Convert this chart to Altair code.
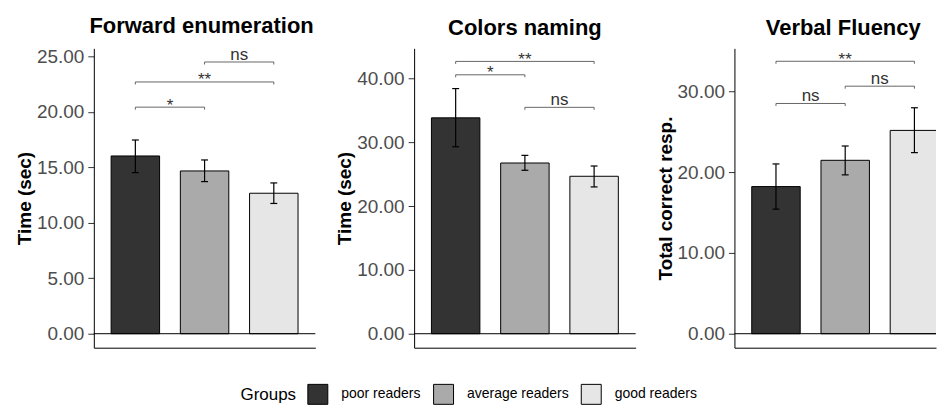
import altair as alt
import pandas as pd

# ---------------- data ----------------
groups = ["poor readers", "average readers", "good readers"]
group_pos = [1, 2, 3]
group_fills = ["#333333", "#AAAAAA", "#E6E6E6"]

panel_titles = ["Forward enumeration", "Colors naming", "Verbal Fluency"]
y_titles = ["Time (sec)", "Time (sec)", "Total correct resp."]

fe_mean = [16.02, 14.67, 12.66]
fe_low = [14.52, 13.71, 11.74]
fe_high = [17.46, 15.66, 13.59]

cn_mean = [33.85, 26.77, 24.69]
cn_low = [29.32, 25.63, 23.02]
cn_high = [38.44, 27.97, 26.30]

vf_mean = [18.20, 21.45, 25.15]
vf_low = [15.41, 19.65, 22.40]
vf_high = [21.00, 23.22, 27.95]

bracket_from = [1, 1, 2]
bracket_to = [2, 3, 3]
fe_bracket_y = [20.42, 22.69, 24.49]
fe_bracket_lab = ["*", "**", "ns"]
cn_bracket_y = [40.6, 42.7, 35.5]
cn_bracket_lab = ["*", "**", "ns"]
vf_bracket_y = [28.48, 33.7, 30.62]
vf_bracket_lab = ["ns", "**", "ns"]

fe_ticks = [0, 5, 10, 15, 20, 25]
cn_ticks = [0, 10, 20, 30, 40]
vf_ticks = [0, 10, 20, 30]

fe_ydom = [-1.26, 25.72]
cn_ydom = [-2.19, 44.75]
vf_ydom = [-1.73, 35.3]

FONT = "Liberation Sans"

legend = alt.Legend(
    orient="none", legendX=147, legendY=336, direction="horizontal",
    title="Groups", titleOrient="left", titleFontSize=17, titleFontWeight="normal",
    titleColor="black", titleFont=FONT, titlePadding=11, titleBaseline="middle",
    labelFontSize=14, labelColor="black", labelFont=FONT, labelOffset=13,
    columnPadding=10, symbolType="square", symbolSize=400,
    symbolStrokeColor="black", symbolStrokeWidth=1, symbolOpacity=1,
)


def panel(title, ytitle, mean, low, high, b_y, b_lab, yticks, ydom, xdom, width,
          title_dx=0):
    df = pd.DataFrame({"group": groups, "pos": group_pos, "mean": mean,
                       "low": low, "high": high})
    bdf = pd.DataFrame({"x1": bracket_from, "x2": bracket_to, "y": b_y, "label": b_lab})
    yscale = alt.Scale(domain=ydom, nice=False, zero=False)
    xscale = alt.Scale(domain=xdom, nice=False, zero=False)
    yaxis = alt.Axis(values=yticks, format=".2f", labelFontSize=19, labelColor="#4D4D4D",
                     labelFont=FONT, titleFont=FONT, titleFontSize=19, titleFontWeight="bold",
                     titleColor="black", tickSize=6, tickColor="#333333", tickWidth=1,
                     domainColor="black", domainWidth=1, labelPadding=4,
                     titlePadding=2, labelFlush=False, labelOverlap=False,
                     grid=False)
    xaxis = alt.Axis(labels=False, ticks=False, title=None, domain=True,
                     domainColor="black", domainWidth=1, grid=False)

    def Y(f):
        return alt.Y(f, scale=yscale, axis=yaxis, title=ytitle)

    def X(f):
        return alt.X(f, scale=xscale, axis=xaxis, title=None)

    base = alt.Chart(df)
    bars = base.transform_calculate(
        xl="datum.pos - 0.35", xr="datum.pos + 0.35", zero="0"
    ).mark_bar(stroke="black", strokeWidth=1, clip=True).encode(
        x=X("xl:Q"), x2="xr:Q", y=Y("mean:Q"), y2="zero:Q",
        fill=alt.Fill("group:N", scale=alt.Scale(domain=groups, range=group_fills),
                      legend=legend),
    )
    zero = alt.Chart(pd.DataFrame({"z": [0]})).mark_rule(
        color="black", strokeWidth=1).encode(y=Y("z:Q"))
    stems = base.mark_rule(color="black", strokeWidth=1.2).encode(
        x=X("pos:Q"), y=Y("low:Q"), y2="high:Q")
    caps = base.transform_fold(["low", "high"], as_=["end", "val"]).transform_calculate(
        cl="datum.pos - 0.05", cr="datum.pos + 0.05"
    ).mark_rule(color="black", strokeWidth=1.2).encode(
        x=X("cl:Q"), x2="cr:Q", y=Y("val:Q"))

    brk = alt.Chart(bdf)
    lines = brk.mark_rule(color="#555555", strokeWidth=0.9).encode(
        x=X("x1:Q"), x2="x2:Q", y=Y("y:Q"))
    ends = brk.transform_fold(["x1", "x2"], as_=["side", "xe"]).mark_point(
        shape="M0,0L0,1", size=25, filled=False, color="#555555",
        strokeWidth=0.9, opacity=1).encode(x=X("xe:Q"), y=Y("y:Q"))
    labs = brk.transform_calculate(xm="(datum.x1 + datum.x2) / 2")
    ns = labs.transform_filter("datum.label == 'ns'").mark_text(
        baseline="alphabetic", dy=-2, fontSize=17, color="#333333", font=FONT
    ).encode(x=X("xm:Q"), y=Y("y:Q"), text="label:N")
    stars = labs.transform_filter("datum.label != 'ns'").mark_text(
        baseline="alphabetic", dy=3.5, fontSize=17, color="#333333", font=FONT
    ).encode(x=X("xm:Q"), y=Y("y:Q"), text="label:N")

    return alt.layer(bars, zero, stems, caps, lines, ends, ns, stars).properties(
        width=width, height=300,
        title=alt.TitleParams(title, fontSize=22, fontWeight="bold", font=FONT,
                              color="black", anchor="middle", frame="group",
                              baseline="alphabetic", offset=-9, dx=title_dx),
    )


p1 = panel(panel_titles[0], y_titles[0], fe_mean, fe_low, fe_high, fe_bracket_y,
           fe_bracket_lab, fe_ticks, fe_ydom, [0.4, 3.6], 222, title_dx=-3)
p2 = panel(panel_titles[1], y_titles[1], cn_mean, cn_low, cn_high, cn_bracket_y,
           cn_bracket_lab, cn_ticks, cn_ydom, [0.4, 3.6], 222)
p3 = panel(panel_titles[2], y_titles[2], vf_mean, vf_low, vf_high, vf_bracket_y,
           vf_bracket_lab, vf_ticks, vf_ydom, [0.4, 3.3117], 202, title_dx=8)

chart = alt.hconcat(p1, p2, p3, spacing=99, bounds="flush").properties(
    padding={"left": 7, "top": 6, "right": 0, "bottom": 0}
).configure(font=FONT).configure_view(stroke=None).configure_axis(grid=False)

chart.save("out.html", embed_options={"renderer": "svg", "actions": False})
